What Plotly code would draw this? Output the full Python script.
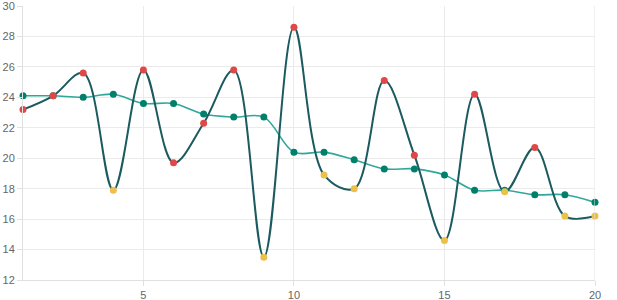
import plotly.graph_objects as go

x_vals = list(range(1, 21))
series_a = [23.2, 24.1, 25.6, 17.9, 25.8, 19.7, 22.3, 25.8, 13.5, 28.6,
            18.9, 18.0, 25.1, 20.2, 14.6, 24.2, 17.8, 20.7, 16.2, 16.2]
series_b = [24.1, 24.1, 24.0, 24.2, 23.6, 23.6, 22.9, 22.7, 22.7, 20.4,
            20.4, 19.9, 19.3, 19.3, 18.9, 17.9, 17.9, 17.6, 17.6, 17.1]
y_ticks = [12, 14, 16, 18, 20, 22, 24, 26, 28, 30]
x_ticks = [5, 10, 15, 20]

threshold = 19
colors_a = ["#e04848" if v > threshold else "#ecc04a" for v in series_a]

fig = go.Figure()
fig.add_trace(go.Scatter(
    x=x_vals, y=series_b, mode="lines+markers",
    line=dict(color="#2fa89a", width=1.6, shape="spline", smoothing=1.0),
    marker=dict(color="#00806a", size=7),
    showlegend=False, cliponaxis=False,
))
fig.add_trace(go.Scatter(
    x=x_vals, y=series_a, mode="lines+markers",
    line=dict(color="#1b5a5f", width=2, shape="spline", smoothing=1.0),
    marker=dict(color=colors_a, size=7),
    showlegend=False, cliponaxis=False,
))

fig.update_layout(
    width=617, height=300,
    margin=dict(l=23, r=22, t=6, b=20),
    paper_bgcolor="white", plot_bgcolor="white",
    font=dict(family="Liberation Sans, Arial, sans-serif", size=11, color="#666666"),
)
fig.update_xaxes(
    range=[1, 20], tickvals=x_ticks, showgrid=True, gridcolor="#ebebeb",
    gridwidth=1, zeroline=False, showline=True, linecolor="#e0e0e0",
    ticks="outside", ticklen=5, tickcolor="#e0e0e0",
    ticklabeloverflow="allow", automargin=False,
)
fig.update_yaxes(
    range=[12, 30], tickvals=y_ticks, showgrid=True, gridcolor="#ebebeb",
    gridwidth=1, zeroline=False, showline=True, linecolor="#e0e0e0",
    ticks="outside", ticklen=5, tickcolor="#e0e0e0",
    ticklabeloverflow="allow", automargin=False,
)
fig.add_shape(type="line", xref="x", yref="paper", x0=20, x1=20, y0=0, y1=1,
              line=dict(color="#e0e0e0", width=1))

fig.write_html("out.html")
